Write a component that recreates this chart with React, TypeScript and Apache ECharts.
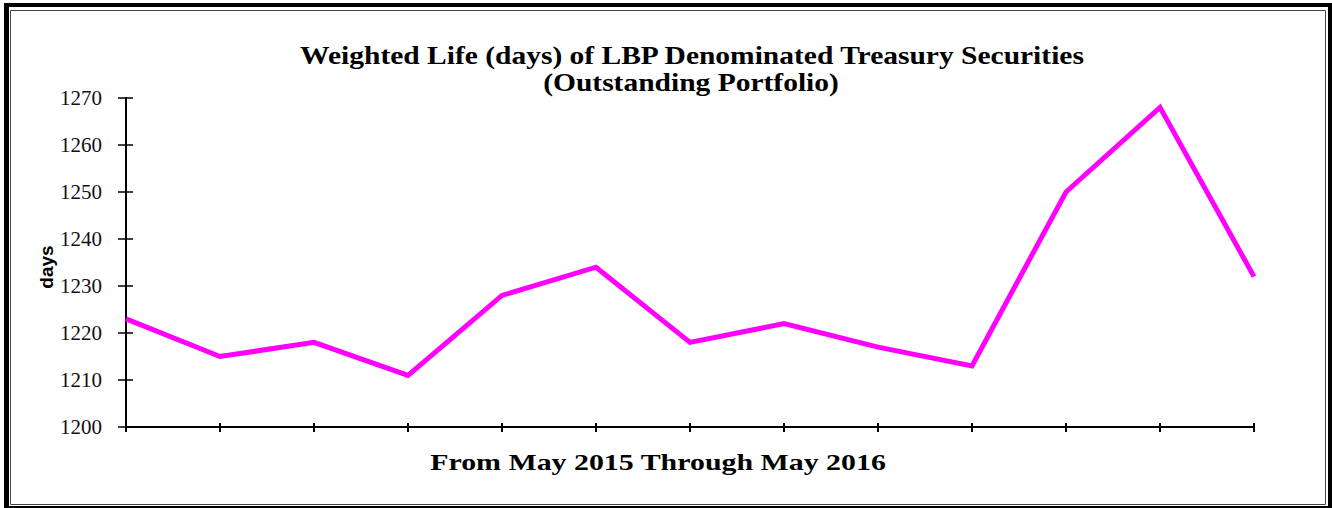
import React, { useEffect, useRef } from "react";
import * as echarts from "echarts";

const months = [
  "May 2015", "Jun 2015", "Jul 2015", "Aug 2015", "Sep 2015", "Oct 2015", "Nov 2015",
  "Dec 2015", "Jan 2016", "Feb 2016", "Mar 2016", "Apr 2016", "May 2016",
];
const weightedLife = [1223, 1215, 1218, 1211, 1228, 1234, 1218, 1222, 1217, 1213, 1250, 1268, 1232];
const yMin = 1200;
const yMax = 1270;
const yStep = 10;
const titleLine1 = "Weighted Life (days) of LBP Denominated Treasury Securities";
const titleLine2 = "(Outstanding Portfolio)";
const xName = "From May 2015 Through May 2016";
const yName = "days";

export default function App() {
  const ref = useRef<HTMLDivElement>(null);
  useEffect(() => {
    if (!ref.current) return;
    const chart = echarts.init(ref.current, undefined, { renderer: "svg" });
    const serif = "'Liberation Serif', 'Times New Roman', serif";
    chart.setOption({
      animation: false,
      backgroundColor: "#fff",
      grid: { left: 126, right: 78, top: 98, bottom: 81, containLabel: false },
      xAxis: [
        {
          type: "category",
          data: months,
          boundaryGap: false,
          axisLine: { show: true, lineStyle: { color: "#000", width: 2 } },
          axisTick: { show: true, alignWithLabel: true, length: 5, lineStyle: { color: "#000", width: 2 } },
          axisLabel: { show: false },
          splitLine: { show: false },
        },
        {
          type: "category",
          data: months,
          position: "bottom",
          boundaryGap: false,
          axisLine: { show: false },
          axisTick: { show: true, inside: true, length: 4, lineStyle: { color: "#000", width: 2 } },
          axisLabel: { show: false },
          splitLine: { show: false },
        },
      ],
      yAxis: [
        {
          type: "value",
          min: yMin,
          max: yMax,
          interval: yStep,
          axisLine: { show: true, lineStyle: { color: "#000", width: 2 } },
          axisTick: { show: true, length: 8, lineStyle: { color: "#000", width: 1.5 } },
          axisLabel: {
            show: true,
            margin: 24,
            color: "#111",
            fontFamily: serif,
            fontSize: 21,
            formatter: (v: number) => String(v),
          },
          splitLine: { show: false },
        },
        {
          type: "value",
          min: yMin,
          max: yMax,
          interval: yStep,
          position: "left",
          axisLine: { show: false },
          axisTick: { show: true, inside: true, length: 7, lineStyle: { color: "#000", width: 1.5 } },
          axisLabel: { show: false },
          splitLine: { show: false },
        },
      ],
      series: [
        {
          type: "line",
          name: "Weighted Life",
          data: weightedLife,
          xAxisIndex: 0,
          yAxisIndex: 0,
          symbol: "none",
          clip: true,
          lineStyle: { color: "#FF00FF", width: 5, join: "miter", cap: "butt" },
        },
      ],
      graphic: [
        { type: "rect", z: -10, silent: true, shape: { x: 4, y: 3, width: 1328, height: 505 }, style: { fill: "#000" } },
        { type: "rect", z: -9, silent: true, shape: { x: 9, y: 7, width: 1319, height: 499 }, style: { fill: "#fff" } },
        {
          type: "rect", z: -8, silent: true,
          shape: { x: 10.5, y: 10.5, width: 1315, height: 494 },
          style: { fill: "none", stroke: "#444", lineWidth: 1 },
        },
        {
          type: "text", z: 10, x: 692, y: 56, scaleX: 1.18,
          style: { text: titleLine1, font: `bold 25px ${serif}`, fill: "#000", textAlign: "center", textVerticalAlign: "middle" },
        },
        {
          type: "text", z: 10, x: 691, y: 83, scaleX: 1.18,
          style: { text: titleLine2, font: `bold 25px ${serif}`, fill: "#000", textAlign: "center", textVerticalAlign: "middle" },
        },
        {
          type: "text", z: 10, x: 658, y: 462, scaleX: 1.3,
          style: { text: xName, font: `bold 23px ${serif}`, fill: "#000", textAlign: "center", textVerticalAlign: "middle" },
        },
        {
          type: "text", z: 10, x: 46, y: 267, rotation: Math.PI / 2,
          style: { text: yName, font: "bold 19px 'Liberation Sans', Arial, sans-serif", fill: "#000", textAlign: "center", textVerticalAlign: "middle" },
        },
      ],
    });
    return () => chart.dispose();
  }, []);
  return (
    <div
      ref={ref}
      style={{ position: "absolute", left: 0, top: 0, width: 1332, height: 508 }}
    />
  );
}
